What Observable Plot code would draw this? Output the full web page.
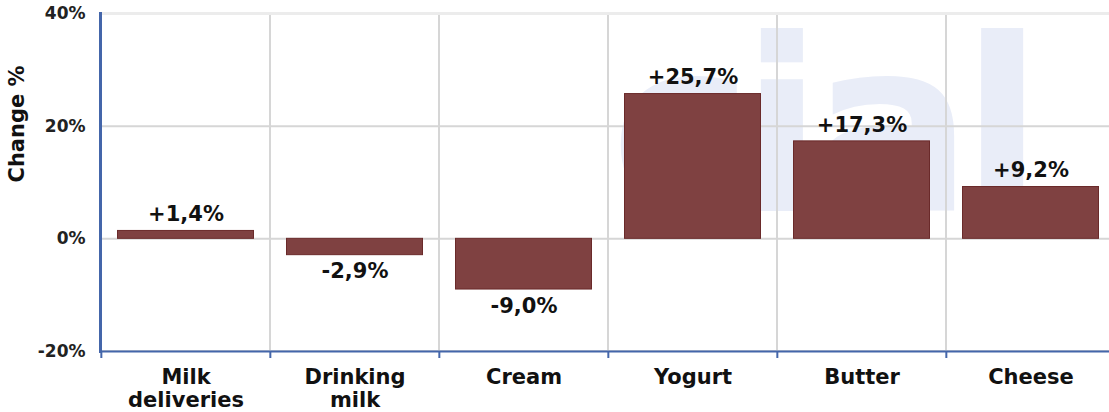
<!DOCTYPE html>
<html>
<head>
<meta charset="utf-8">
<script src="https://cdn.jsdelivr.net/npm/d3@7"></script>
<script src="https://cdn.jsdelivr.net/npm/@observablehq/plot@0.6"></script>
<style>
  html, body { margin: 0; padding: 0; background: #fff; overflow: hidden; }
  #chart svg { display: block; }
  .watermark text { letter-spacing: -12px; }
</style>
</head>
<body>
<div id="chart"></div>
<script>
const categories = ["Milk deliveries", "Drinking milk", "Cream", "Yogurt", "Butter", "Cheese"];
const categoryLabels = ["Milk\ndeliveries", "Drinking\nmilk", "Cream", "Yogurt", "Butter", "Cheese"];
const values = [1.4, -2.9, -9.0, 25.7, 17.3, 9.2];
const yTicks = [-20, 0, 20, 40];
const yTitle = "Change %";
const watermark = "cial";

const W = 1116, H = 412, ML = 100, MR = 0, MT = 13, MB = 61;
const step = (W - ML - MR) / categories.length;
const blue = "#4466aa";
const font = "DejaVu Sans, Verdana, sans-serif";

const rows = categories.map((c, i) => ({cat: c, label: categoryLabels[i], value: values[i]}));
const pos = rows.filter(d => d.value >= 0);
const neg = rows.filter(d => d.value < 0);
const fmt = v => (v > 0 ? "+" : "") + v.toFixed(1).replace(".", ",") + "%";

const chart = Plot.plot({
  width: W,
  height: H,
  marginLeft: ML,
  marginRight: MR,
  marginTop: MT,
  marginBottom: MB,
  style: {fontFamily: font, fontWeight: "bold", color: "#111", maxWidth: "none", background: "#fff"},
  x: {type: "band", domain: categories, padding: 0, axis: null, label: null},
  y: {domain: [-20, 40], axis: null, label: null},
  marks: [
    Plot.text([watermark], {
      frameAnchor: "top-left", dx: 510, dy: 197, textAnchor: "start", lineAnchor: "bottom",
      fontSize: 240, fontWeight: "bold", fill: "#e9edf8", className: "watermark"
    }),
    Plot.barY(rows, {x: "cat", y1: -20, y2: 40, fill: "none", stroke: "#d6d6d6", strokeWidth: 2}),
    Plot.ruleY([0, 20], {stroke: "#d6d6d6", strokeWidth: 2}),
    Plot.ruleY([40], {stroke: "#ececec", strokeWidth: 3}),
    Plot.barY(rows, {
      x: "cat", y: "value", fill: "#7f4141", stroke: "#6a2a2a", strokeWidth: 1,
      insetLeft: 16.5, insetRight: 16.5
    }),
    Plot.text(pos, {
      x: "cat", y: "value", text: d => fmt(d.value),
      dy: -16.5, lineAnchor: "middle",
      fontSize: 21, fontWeight: "bold", fill: "#111"
    }),
    Plot.text(neg, {
      x: "cat", y: "value", text: d => fmt(d.value),
      dy: 16.5, lineAnchor: "middle",
      fontSize: 21, fontWeight: "bold", fill: "#111"
    }),
    Plot.frame({anchor: "left", stroke: blue, strokeWidth: 3}),
    Plot.frame({anchor: "bottom", stroke: blue, strokeWidth: 2}),
    Plot.axisX({tickSize: 7, tickFormat: () => "", label: null, stroke: blue, strokeWidth: 2, dx: -step / 2}),
    Plot.text(rows, {
      x: "cat", text: "label", frameAnchor: "bottom", lineAnchor: "top", dy: 16,
      lineHeight: 1.11, fontSize: 21, fontWeight: "bold", fill: "#111"
    }),
    Plot.axisY({
      ticks: yTicks, tickFormat: d => d + "%", tickSize: 0, tickPadding: 15, label: null,
      fontSize: 17, fontWeight: "bold", fill: "#222"
    }),
    Plot.text([yTitle], {
      frameAnchor: "left", rotate: -90, dx: -83, lineAnchor: "middle",
      fontSize: 21, fontWeight: "bold", fill: "#111"
    })
  ]
});
document.getElementById("chart").appendChild(chart);
</script>
</body>
</html>
